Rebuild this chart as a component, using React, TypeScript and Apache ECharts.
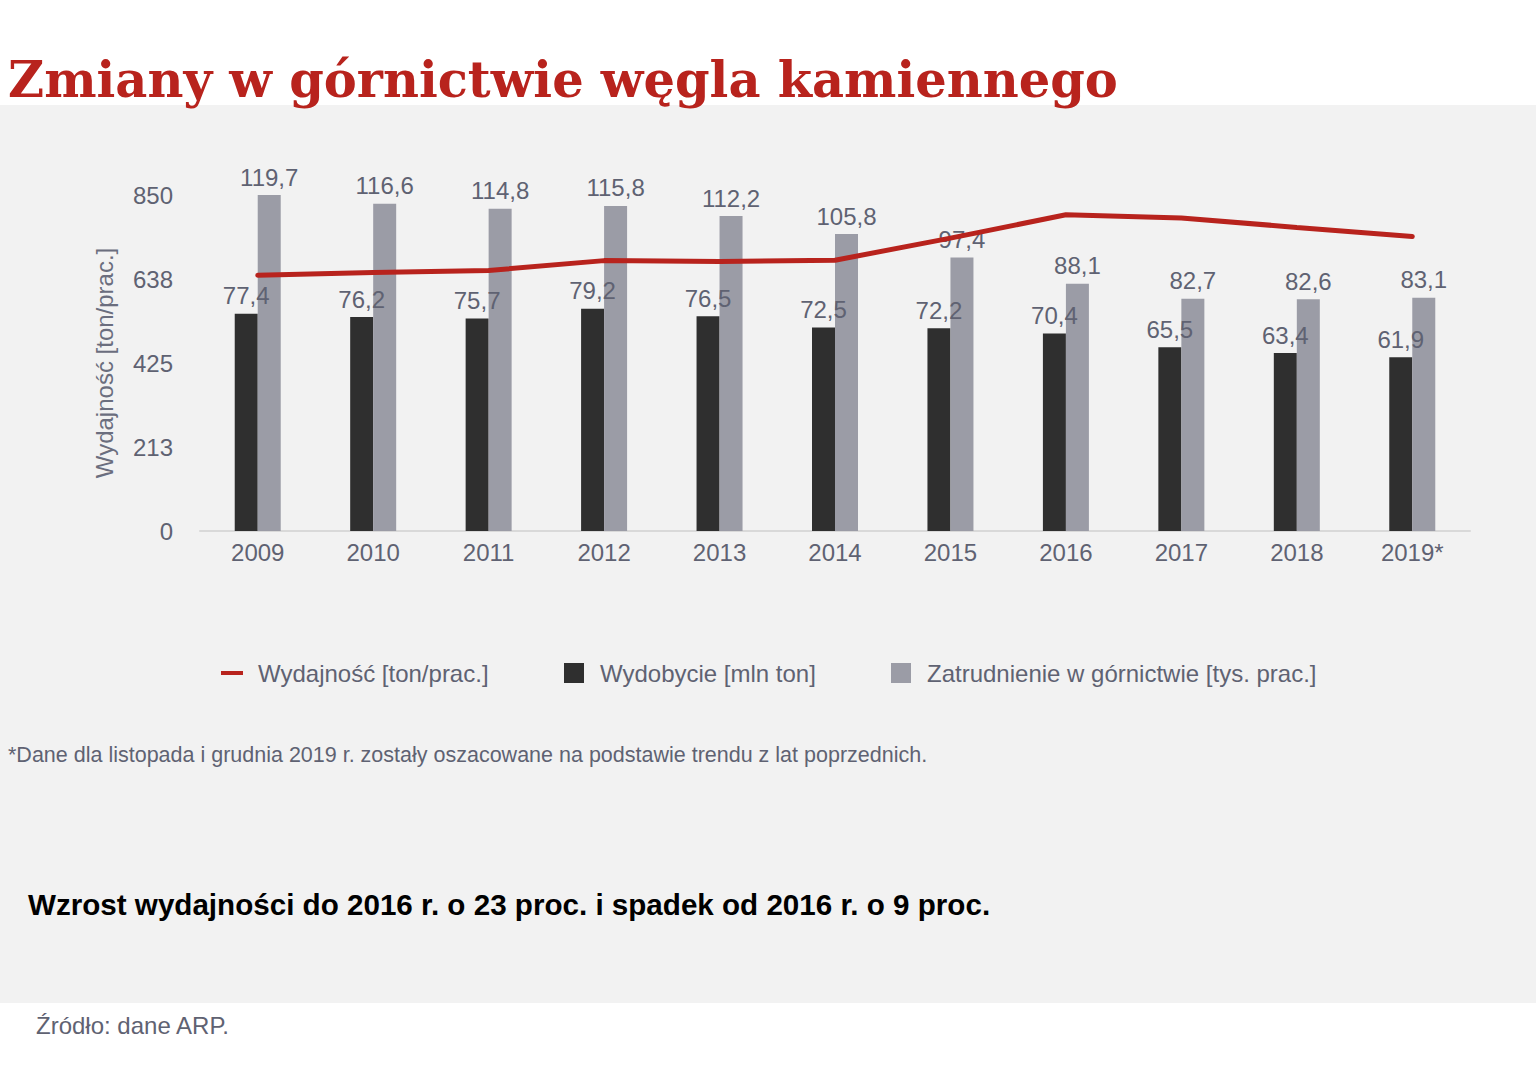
import React, { useEffect, useRef } from "react";
import * as echarts from "echarts";

const categories = ["2009", "2010", "2011", "2012", "2013", "2014", "2015", "2016", "2017", "2018", "2019*"];
const wydobycie = [77.4, 76.2, 75.7, 79.2, 76.5, 72.5, 72.2, 70.4, 65.5, 63.4, 61.9];
const zatrudnienie = [119.7, 116.6, 114.8, 115.8, 112.2, 105.8, 97.4, 88.1, 82.7, 82.6, 83.1];
const wydajnosc = [647, 654, 659, 684, 682, 685, 741, 800, 792, 768, 745];
const yTicks = [0, 213, 425, 638, 850];
const seriesNames = ["Wydajność [ton/prac.]", "Wydobycie [mln ton]", "Zatrudnienie w górnictwie [tys. prac.]"];

const TXT = "#5f6272";
const RED = "#b8231d";
const DARK = "#2f2f2f";
const GREY = "#9b9ca6";
const FONT = "'Liberation Sans', Arial, Helvetica, sans-serif";
const fmt = (v: number) => v.toFixed(1).replace(".", ",");

export default function App() {
  const ref = useRef<HTMLDivElement>(null);
  useEffect(() => {
    const chart = echarts.init(ref.current!, undefined, { renderer: "svg" });
    chart.setOption({
      animation: false,
      backgroundColor: "#ffffff",
      textStyle: { fontFamily: FONT },
      graphic: [
        { type: "rect", z: -10, silent: true, shape: { x: 0, y: 105, width: 1536, height: 898 }, style: { fill: "#f2f2f2" } },
        { type: "text", left: 8, top: 55, style: { text: "Zmiany w górnictwie węgla kamiennego", font: "bold 49.5px 'DejaVu Serif', Georgia, serif", fill: RED } },
        // legend
        { type: "rect", shape: { x: 221, y: 671, width: 22, height: 4 }, style: { fill: RED } },
        { type: "text", x: 258, y: 673, style: { text: seriesNames[0], font: `24px ${FONT}`, fill: TXT, verticalAlign: "middle" } },
        { type: "rect", shape: { x: 564, y: 663, width: 20, height: 20 }, style: { fill: DARK } },
        { type: "text", x: 600, y: 673, style: { text: seriesNames[1], font: `24px ${FONT}`, fill: TXT, verticalAlign: "middle" } },
        { type: "rect", shape: { x: 891, y: 663, width: 20, height: 20 }, style: { fill: GREY } },
        { type: "text", x: 927, y: 673, style: { text: seriesNames[2], font: `24px ${FONT}`, fill: TXT, verticalAlign: "middle" } },
        { type: "text", x: 8, y: 755, style: { text: "*Dane dla listopada i grudnia 2019 r. zostały oszacowane na podstawie trendu z lat poprzednich.", font: `21.5px ${FONT}`, fill: TXT, verticalAlign: "middle" } },
        { type: "text", x: 28, y: 904, style: { text: "Wzrost wydajności do 2016 r. o 23 proc. i spadek od 2016 r. o 9 proc.", font: `bold 29.6px ${FONT}`, fill: "#000000", verticalAlign: "middle" } },
        { type: "text", x: 36, y: 1025, style: { text: "Źródło: dane ARP.", font: `24px ${FONT}`, fill: TXT, verticalAlign: "middle" } },
      ],
      grid: { left: 200, right: 66, top: 195, bottom: 550 },
      xAxis: {
        type: "category",
        data: categories,
        axisLine: { lineStyle: { color: "#d9d9d9", width: 2 } },
        axisTick: { show: false },
        axisLabel: { color: TXT, fontSize: 24, margin: 9 },
      },
      yAxis: [
        {
          type: "value",
          min: 0,
          max: 850,
          interval: 212.5,
          name: "Wydajność [ton/prac.]",
          nameLocation: "middle",
          nameGap: 84,
          nameTextStyle: { color: "#6b6e7e", fontSize: 24 },
          axisLabel: { color: TXT, fontSize: 24, margin: 27, formatter: (v: number) => String(yTicks[Math.round(v / 212.5)] ?? v) },
          splitLine: { show: false },
          axisLine: { show: false },
          axisTick: { show: false },
        },
        { type: "value", min: 0, max: 119.7, show: false, splitLine: { show: false } },
      ],
      series: [
        {
          name: seriesNames[1],
          type: "bar",
          yAxisIndex: 1,
          data: wydobycie,
          barWidth: 23,
          barGap: "0%",
          itemStyle: { color: DARK },
          label: { show: true, position: "top", distance: 6, color: TXT, fontSize: 24, formatter: (p: any) => fmt(p.value) },
          z: 2,
        },
        {
          name: seriesNames[2],
          type: "bar",
          yAxisIndex: 1,
          data: zatrudnienie,
          barWidth: 23,
          barGap: "0%",
          itemStyle: { color: GREY },
          label: { show: true, position: "top", distance: 6, color: TXT, fontSize: 24, formatter: (p: any) => fmt(p.value) },
          z: 2,
        },
        {
          name: seriesNames[0],
          type: "line",
          yAxisIndex: 0,
          data: wydajnosc,
          showSymbol: false,
          symbol: "none",
          lineStyle: { color: RED, width: 5, cap: "round" },
          itemStyle: { color: RED },
          z: 5,
        },
      ],
    });
    return () => chart.dispose();
  }, []);
  return <div ref={ref} style={{ position: "fixed", left: 0, top: 0, width: 1536, height: 1081 }} />;
}
